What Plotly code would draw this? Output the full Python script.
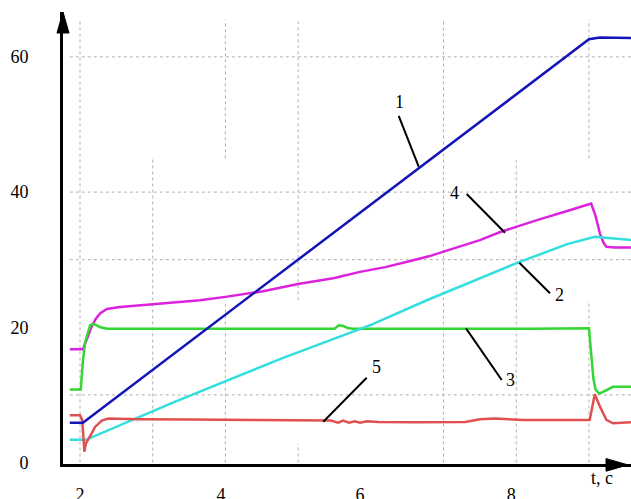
import plotly.graph_objects as go

# ---- series data: time t (s) and values ----
t1 = [1.86, 2.04, 9.00, 9.15, 9.58]
y1 = [5.9, 5.9, 62.6, 62.85, 62.8]

t2 = [1.86, 2.08, 3.31, 4.75, 6.01, 6.77, 8.03, 8.70, 9.08, 9.30, 9.58]
y2 = [3.35, 3.35, 9.0, 15.3, 20.4, 24.0, 29.6, 32.3, 33.4, 33.2, 32.9]

t3 = [1.86, 2.01, 2.04, 2.07, 2.14, 2.19, 2.28, 2.37, 5.50, 5.56, 5.62,
      5.68, 5.75, 6.60, 7.80, 8.20, 9.00, 9.03, 9.06, 9.09, 9.14, 9.20,
      9.33, 9.58]
y3 = [10.8, 10.8, 15.0, 17.8, 20.3, 20.5, 20.0, 19.8, 19.8, 20.3, 20.2,
      19.9, 19.8, 19.8, 19.7, 19.8, 19.85, 16.0, 12.5, 10.8, 10.2, 10.5,
      11.2, 11.2]

t4 = [1.86, 2.04, 2.10, 2.16, 2.22, 2.28, 2.37, 2.55, 3.00, 3.65, 4.00,
      4.50, 5.00, 5.50, 5.85, 6.20, 6.50, 6.80, 7.00, 7.25, 7.50, 7.78,
      8.00, 8.33, 8.70, 9.03, 9.09, 9.15, 9.20, 9.24, 9.35, 9.58]
y4 = [16.75, 16.75, 18.4, 20.1, 21.3, 22.1, 22.7, 23.0, 23.4, 24.0, 24.5,
      25.3, 26.4, 27.3, 28.2, 28.9, 29.7, 30.5, 31.2, 32.0, 32.9, 34.1,
      34.9, 36.0, 37.2, 38.3, 36.5, 33.9, 32.5, 31.9, 31.8, 31.8]

t5 = [1.86, 2.00, 2.03, 2.06, 2.08, 2.11, 2.16, 2.21, 2.30, 2.39, 2.80,
      3.50, 4.50, 5.30, 5.45, 5.55, 5.62, 5.70, 5.78, 5.85, 5.95, 6.10,
      6.60, 7.30, 7.50, 7.70, 7.90, 8.10, 9.01, 9.08, 9.15, 9.24, 9.33,
      9.58]
y5 = [7.0, 7.0, 6.3, 1.6, 2.8, 3.3, 4.3, 5.3, 6.2, 6.5, 6.4,
      6.35, 6.3, 6.3, 6.2, 5.9, 6.2, 5.9, 6.1, 5.9, 6.1, 6.0,
      5.95, 6.0, 6.4, 6.5, 6.4, 6.3, 6.3, 10.1, 8.3, 6.3, 5.8,
      5.95]

# ---- axis tick labels ----
x_tick_labels = ["2", "4", "6", "8"]
x_tick_pos = [2.0, 3.94, 5.85, 7.93]
y_tick_labels = ["0", "20", "40", "60"]
y_tick_vals = [0, 20, 40, 60]

# ---- curve numbers with leader lines: (label, text t, text y, line start, line end) ----
curve_tags = [
    ("1", 6.40, 53.4, (6.383, 51.26), (6.658, 43.76)),
    ("4", 7.157, 39.8, (7.318, 39.72), (7.845, 33.99)),
    ("2", 8.588, 24.8, (8.042, 29.56), (8.464, 25.03)),
    ("3", 7.914, 12.2, (7.309, 19.85), (7.80, 12.20)),
    ("5", 6.081, 14.2, (5.346, 6.04), (5.943, 12.54)),
]

# ---- dotted grid: horizontal levels and vertical segments (t, y_from, y_to) ----
grid_levels = [10, 30, 40, 60]
grid_vsegments = [
    (2, 0, 65.5), (3, 0, 45.0), (4, 45.0, 65.5), (4, 0, 23.7),
    (5, 24.0, 65.5), (5, 0, 2.8), (7, 0, 65.5), (8, 0, 44.7),
    (9, 45.0, 65.5), (9, 0, 24.0),
]

X_RANGE = [1.766, 9.578]
Y_RANGE = [-0.22, 66.64]
SERIF = "'Liberation Serif', 'Times New Roman', 'DejaVu Serif', serif"

fig = go.Figure()

series = [
    (t4, y4, "#dd22dd"),
    (t3, y3, "#33d633"),
    (t2, y2, "#33dede"),
    (t5, y5, "#e05050"),
    (t1, y1, "#1414b8"),
]
for tx, yy, col in series:
    fig.add_trace(go.Scatter(x=tx, y=yy, mode="lines",
                             line=dict(color=col, width=2.5),
                             showlegend=False, hoverinfo="skip"))

shapes = []
grid_style = dict(color="#b0b0b0", width=1, dash="dot")
for lv in grid_levels:
    shapes.append(dict(type="line", xref="x", yref="y", x0=1.86, x1=X_RANGE[1],
                       y0=lv, y1=lv, line=grid_style, layer="below"))
for tx, ya, yb in grid_vsegments:
    shapes.append(dict(type="line", xref="x", yref="y", x0=tx, x1=tx,
                       y0=ya, y1=yb, line=grid_style, layer="below"))

# leader lines
for _, _, _, p0, p1 in curve_tags:
    shapes.append(dict(type="line", xref="x", yref="y", x0=p0[0], y0=p0[1],
                       x1=p1[0], y1=p1[1], line=dict(color="black", width=2)))

# arrow heads on the axes
shapes.append(dict(type="path", xref="paper", yref="paper",
                   path="M -0.0106,0.9535 L 0,1.0 L 0.0106,0.9535 Z",
                   fillcolor="black", line=dict(color="black", width=1)))
shapes.append(dict(type="path", xref="paper", yref="paper",
                   path="M 0.956,0.012 L 0.9947,-0.002 L 0.956,-0.016 Z",
                   fillcolor="black", line=dict(color="black", width=1)))

annotations = []
for lab, tx, ty, _, _ in curve_tags:
    annotations.append(dict(x=tx, y=ty, xref="x", yref="y", text=lab,
                            showarrow=False,
                            font=dict(family=SERIF, size=18, color="black")))
annotations.append(dict(x=0.972, y=-0.0575, xref="paper", yref="paper",
                        text="t, c", showarrow=False,
                        font=dict(family=SERIF, size=18, color="black")))

fig.update_layout(
    width=631, height=499,
    margin=dict(l=63, r=0, t=12, b=35, autoexpand=False),
    paper_bgcolor="white", plot_bgcolor="white",
    font=dict(family=SERIF, size=18, color="black"),
    shapes=shapes, annotations=annotations,
    xaxis=dict(range=X_RANGE, showgrid=False, zeroline=False, automargin=False,
               showline=True, linecolor="black", linewidth=3,
               tickmode="array", tickvals=x_tick_pos, ticktext=x_tick_labels,
               ticks="", ticklabelstandoff=12,
               tickfont=dict(family=SERIF, size=18, color="black")),
    yaxis=dict(range=Y_RANGE, showgrid=False, zeroline=False, automargin=False,
               showline=True, linecolor="black", linewidth=3,
               tickmode="array", tickvals=y_tick_vals, ticktext=y_tick_labels,
               ticks="", ticklabelstandoff=28,
               tickfont=dict(family=SERIF, size=18, color="black")),
)

fig.write_html("out.html")
